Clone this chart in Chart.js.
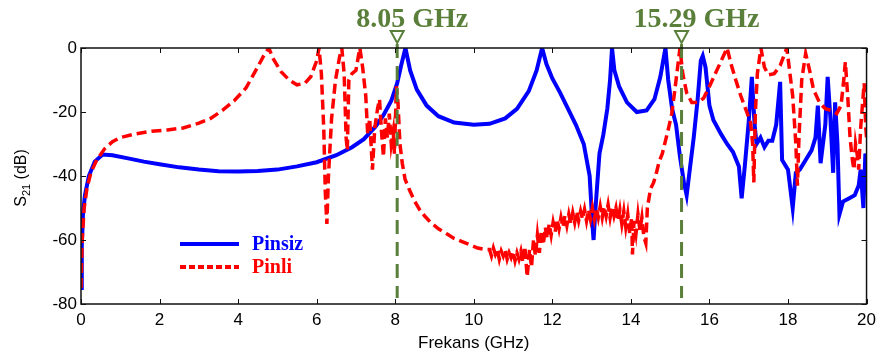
<!DOCTYPE html>
<html>
<head>
<meta charset="utf-8">
<script src="https://cdn.jsdelivr.net/npm/chart.js@4.4.1/dist/chart.umd.min.js"></script>
<style>
  html, body { margin: 0; padding: 0; background: #fff; }
</style>
</head>
<body>
<canvas id="chart" width="882" height="358"></canvas>
<script>
// tick labels
const xTicks = [0, 2, 4, 6, 8, 10, 12, 14, 16, 18, 20];
const yTicks = [0, -20, -40, -60, -80];

// Pinsiz (without pins)
const pinsizFreq = [0, 0.02, 0.05, 0.1, 0.2, 0.35, 0.55, 0.8, 1.2, 1.6, 2.0, 2.5, 3.0, 3.5, 4.0, 4.5, 5.0, 5.5, 6.0, 6.5,
  6.9, 7.2, 7.5, 7.7, 7.9, 8.05, 8.15, 8.26, 8.38, 8.55, 8.8, 9.1, 9.5, 10.0, 10.4, 10.8, 11.1, 11.4, 11.6, 11.74,
  11.85, 12.0, 12.2, 12.4, 12.6, 12.8, 12.95, 13.02, 13.05, 13.1, 13.2, 13.3, 13.4, 13.47, 13.52, 13.58, 13.7, 13.9, 14.15, 14.4,
  14.6, 14.75, 14.88, 14.95, 15.05, 15.15, 15.25, 15.35, 15.42, 15.5, 15.6, 15.7, 15.78, 15.83, 15.9, 16.0, 16.1, 16.3, 16.45, 16.6,
  16.75, 16.82, 16.9, 17.0, 17.08, 17.15, 17.2, 17.3, 17.4, 17.5, 17.6, 17.7, 17.8, 17.85, 18.0, 18.12, 18.2, 18.3, 18.45, 18.6,
  18.7, 18.76, 18.83, 18.95, 19.01, 19.08, 19.15, 19.2, 19.26, 19.31, 19.4, 19.55, 19.7, 19.8, 19.85, 19.92, 19.97, 20.0];
const pinsizDb = [-75, -62, -52, -46, -40, -35.5, -33.3, -33.5, -34.5, -35.5, -36.3, -37.3, -38, -38.5, -38.6, -38.4, -38, -37, -35.7, -33.5,
  -31, -28.5, -24.5, -21, -16.5, -11, -5.5, 0, -7, -13, -18, -21.3, -23.3, -24, -23.7, -22, -19, -13.5, -7, 0,
  -5, -9.5, -14, -19, -24, -30, -40, -55, -60, -50, -33, -27, -19, -10, 0, -7, -12, -17, -20, -19.5,
  -16, -9, 0, -10, -19, -24, -34, -42, -46, -38, -28, -16, -4, -2.5, -6, -18, -22.5, -27, -30, -32.5,
  -37, -47, -37, -23, -9, -24, -30, -28, -31, -29, -29, -24, -10.6, -35, -38, -50, -39, -38, -35, -32,
  -28, -18, -36, -24, -9, -22, -39, -17, -30, -52, -48, -47, -46, -43, -38, -50, -33, -36];

// Pinli (with pins)
const pinliFreq = [0, 0.03, 0.08, 0.15, 0.25, 0.4, 0.6, 0.8, 1.0, 1.4, 1.8, 2.2, 2.6, 3.0, 3.3, 3.6, 3.9, 4.2, 4.45, 4.65,
  4.78, 4.9, 5.1, 5.3, 5.5, 5.7, 5.85, 6.0, 6.06, 6.12, 6.18, 6.22, 6.26, 6.3, 6.38, 6.48, 6.58, 6.64, 6.7, 6.75,
  6.78, 6.82, 6.9, 7.0, 7.07, 7.1, 7.17, 7.25, 7.3, 7.35, 7.42, 7.48, 7.55, 7.6, 7.65, 7.7, 7.75, 7.8, 7.85, 7.9,
  7.95, 7.98, 8.03, 8.07, 8.12, 8.18, 8.25, 8.35, 8.5, 8.62, 8.75, 8.9, 9.1, 9.3, 9.5, 9.7, 9.9, 10.1, 10.3,
  10.4, 10.45, 10.5, 10.55, 10.6, 10.65, 10.7, 10.75, 10.8, 10.85, 10.9, 10.95, 11.0, 11.05, 11.1, 11.15, 11.2, 11.25, 11.3, 11.36,
  11.42, 11.47, 11.52, 11.57, 11.62, 11.67, 11.72, 11.77, 11.82, 11.87, 11.92, 11.97, 12.02, 12.07, 12.12, 12.17, 12.22, 12.27, 12.32, 12.37,
  12.42, 12.47, 12.52, 12.57, 12.62, 12.67, 12.72, 12.77, 12.82, 12.87, 12.92, 12.97, 13.02, 13.07, 13.12, 13.17, 13.22, 13.27, 13.32, 13.37,
  13.42, 13.47, 13.52, 13.57, 13.62, 13.67, 13.72, 13.77, 13.82, 13.87, 13.92, 13.97, 14.02, 14.04, 14.08, 14.13, 14.18, 14.23, 14.28, 14.33,
  14.38, 14.42, 14.5, 14.58, 14.65, 14.72, 14.8, 14.88, 14.96, 15.04, 15.1, 15.17, 15.25, 15.32, 15.42, 15.55,
  15.7, 15.85, 16.0, 16.15, 16.3, 16.45, 16.55, 16.67, 16.8, 16.95, 17.05, 17.1, 17.13, 17.17, 17.22, 17.31, 17.4, 17.5, 17.65, 17.8,
  17.97, 18.05, 18.12, 18.2, 18.24, 18.28, 18.35, 18.45, 18.55, 18.65, 18.8, 18.95, 19.1, 19.24, 19.35, 19.42, 19.46, 19.52, 19.58, 19.64,
  19.68, 19.72, 19.77, 19.8, 19.85, 19.9, 19.94, 19.98, 20.0];
const pinliDb = [-75, -60, -50, -44, -39, -35, -31.5, -29.3, -28, -26.8, -26, -25.6, -25, -23.5, -22, -19.5, -16.5, -12.5, -7, -2.5,
  0, -3.5, -7.5, -10, -11.5, -11, -9, -4, 0, -8, -25, -45, -55, -40, -22, -10, -3, 0, -8, -28,
  -32, -10, -8, -7, -2, 0, -6, -15, -27, -22, -38, -25, -19, -16, -26, -34, -22, -28, -20.5, -30,
  -26, -33, -12, -17, -30, -36, -41, -44, -48, -50.5, -52.5, -54.5, -56.5, -58, -59.5, -60.5, -61.5, -62.5, -63,
  -63, -65, -62.5, -64.5, -63, -66, -63.5, -65, -63, -66, -64, -65.5, -63.5, -66.5, -64, -66, -63.5, -67, -62, -71.5,
  -63, -68.5, -60, -65, -58.5, -64, -57, -61.5, -56, -59.5, -55, -58.5, -54.5, -57.5, -53.5, -56.5, -53, -56, -52.5, -55.5,
  -52, -55, -51.5, -54.5, -51, -54, -51, -53.5, -50.5, -54, -50.5, -53.5, -50, -53.5, -50, -53, -49.5, -53, -49.5, -52.5,
  -49, -53, -49.5, -52.5, -50, -54, -50.5, -55, -51, -56, -52, -58, -53, -64.5, -54, -58, -52, -57, -53, -59,
  -61, -50, -44, -42, -39, -35.5, -33, -29, -25, -20.5, -15, -8, 0, -8, -14, -17,
  -17, -15.7, -12, -8, -4, 0, -5, -10, -15, -20, -23.5, -30, -42, -20, -8, 0, -6, -8.4, -8, -5.5,
  0, -8, -15, -30, -43, -28, -10, -1.7, -7, -13, -17, -19, -19.5, -20.5, -18, -10, -4.4, -15, -28, -35,
  -38, -30, -34, -38, -25, -17, -11, -25, -28];

// marked frequencies
const markFreq = [8.05, 15.29];
const markLabels = ["8.05 GHz", "15.29 GHz"];

const seriesNames = ["Pinsiz", "Pinli"];
const seriesColors = ["#0000ff", "#ff0000"];
const green = "#5a7f3a";

function toPoints(xs, ys) {
  let res = [];
  for (let i = 0; i < xs.length; i++) res.push({ x: xs[i], y: ys[i] });
  return res;
}

// box, inward ticks, axis titles, legend and the marker lines
const decorations = {
  id: "decorations",
  afterDatasetsDraw(chart) {
    const ctx = chart.ctx;
    const a = chart.chartArea;
    const xs = chart.scales.x;
    const ys = chart.scales.y;
    ctx.save();

    // markers
    ctx.strokeStyle = green;
    ctx.fillStyle = green;
    for (let i = 0; i < markFreq.length; i++) {
      const px = xs.getPixelForValue(markFreq[i]);
      ctx.lineWidth = 3;
      ctx.setLineDash([14, 8]);
      ctx.beginPath();
      ctx.moveTo(px, a.top - 4);
      ctx.lineTo(px, a.bottom - 6);
      ctx.stroke();
      ctx.setLineDash([]);
      ctx.lineWidth = 2;
      ctx.beginPath();
      ctx.moveTo(px - 6.5, 31);
      ctx.lineTo(px + 6.5, 31);
      ctx.lineTo(px, 43);
      ctx.closePath();
      ctx.stroke();
      ctx.font = "bold 28px 'Liberation Serif', 'Times New Roman', serif";
      ctx.textAlign = "center";
      ctx.textBaseline = "alphabetic";
      ctx.fillText(markLabels[i], px + 15, 27);
    }

    // frame
    ctx.strokeStyle = "#111";
    ctx.lineWidth = 1.5;
    ctx.strokeRect(a.left, a.top, a.right - a.left, a.bottom - a.top);

    // inward ticks on all sides
    ctx.lineWidth = 1;
    ctx.beginPath();
    for (let v of xTicks) {
      const px = Math.round(xs.getPixelForValue(v)) + 0.5;
      ctx.moveTo(px, a.bottom); ctx.lineTo(px, a.bottom - 5);
      ctx.moveTo(px, a.top); ctx.lineTo(px, a.top + 5);
    }
    for (let v of yTicks) {
      const py = Math.round(ys.getPixelForValue(v)) + 0.5;
      ctx.moveTo(a.left, py); ctx.lineTo(a.left + 5, py);
      ctx.moveTo(a.right, py); ctx.lineTo(a.right - 5, py);
    }
    ctx.stroke();

    // axis titles
    ctx.fillStyle = "#000";
    ctx.font = "17px 'Liberation Sans', Arial, sans-serif";
    ctx.textAlign = "center";
    ctx.fillText("Frekans (GHz)", (a.left + a.right) / 2, 348);

    ctx.translate(26, 178);
    ctx.rotate(-Math.PI / 2);
    ctx.textAlign = "left";
    const big = "16px 'Liberation Sans', Arial, sans-serif";
    const small = "11px 'Liberation Sans', Arial, sans-serif";
    ctx.font = big;
    const wS = ctx.measureText("S").width;
    ctx.font = small;
    const w21 = ctx.measureText("21").width;
    ctx.font = big;
    const wRest = ctx.measureText(" (dB)").width;
    let x0 = -(wS + w21 + wRest) / 2;
    ctx.fillText("S", x0, 0);
    ctx.font = small;
    ctx.fillText("21", x0 + wS, 4);
    ctx.font = big;
    ctx.fillText(" (dB)", x0 + wS + w21, 0);
    ctx.setTransform(1, 0, 0, 1, 0, 0);

    // legend
    const lx = a.left + 99;
    const rows = [244, 267];
    ctx.font = "bold 20px 'Liberation Serif', 'Times New Roman', serif";
    ctx.textAlign = "left";
    for (let i = 0; i < seriesNames.length; i++) {
      ctx.strokeStyle = seriesColors[i];
      ctx.fillStyle = seriesColors[i];
      ctx.lineWidth = 4;
      ctx.setLineDash(i === 0 ? [] : [6, 3]);
      ctx.beginPath();
      ctx.moveTo(lx, rows[i]);
      ctx.lineTo(lx + 59, rows[i]);
      ctx.stroke();
      ctx.setLineDash([]);
      ctx.fillText(seriesNames[i], lx + 72, rows[i] + 6);
    }
    ctx.restore();
  },
};

const ctx = document.getElementById("chart");
window.myChart = new Chart(ctx, {
  type: "line",
  data: {
    datasets: [
      {
        label: seriesNames[0],
        data: toPoints(pinsizFreq, pinsizDb),
        borderColor: seriesColors[0],
        borderWidth: 4,
        pointRadius: 0,
        tension: 0,
        order: 1,
      },
      {
        label: seriesNames[1],
        data: toPoints(pinliFreq, pinliDb),
        borderColor: seriesColors[1],
        borderWidth: 3.5,
        borderDash: [10, 5],
        pointRadius: 0,
        tension: 0,
        order: 0,
      },
    ],
  },
  options: {
    responsive: false,
    animation: false,
    layout: { padding: { top: 48, right: 14, left: 0, bottom: 0 } },
    plugins: { legend: { display: false }, tooltip: { enabled: false } },
    scales: {
      x: {
        type: "linear",
        min: 0,
        max: 20,
        afterBuildTicks: (s) => { s.ticks = xTicks.map((v) => ({ value: v })); },
        afterFit: (s) => { s.height = 54; },
        ticks: {
          color: "#000",
          padding: 6,
          maxRotation: 0,
          font: { family: "'Liberation Sans', Arial, sans-serif", size: 17 },
        },
        grid: { display: false, drawTicks: false },
        border: { display: false },
      },
      y: {
        min: -80,
        max: 0,
        afterBuildTicks: (s) => { s.ticks = yTicks.map((v) => ({ value: v })); },
        afterFit: (s) => { s.width = 81; },
        ticks: {
          color: "#000",
          padding: 4,
          font: { family: "'Liberation Sans', Arial, sans-serif", size: 17 },
        },
        grid: { display: false, drawTicks: false },
        border: { display: false },
      },
    },
  },
  plugins: [decorations],
});
</script>
</body>
</html>
